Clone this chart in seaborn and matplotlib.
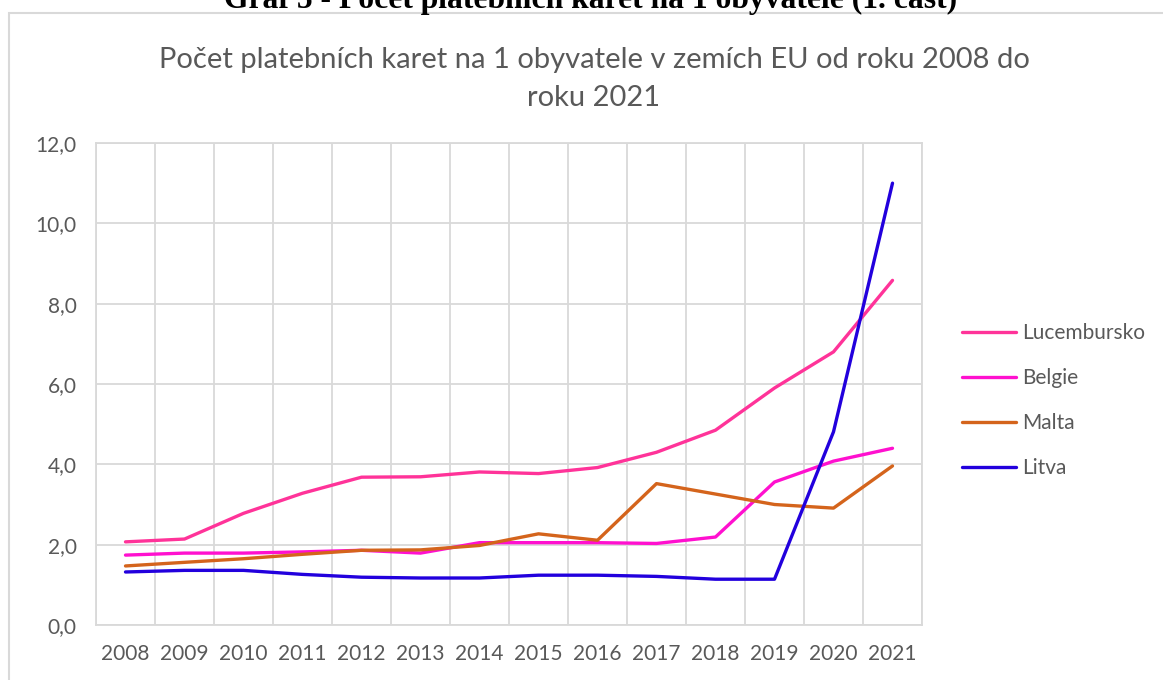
import matplotlib
matplotlib.use('Agg')
import matplotlib.pyplot as plt
from matplotlib.patches import Rectangle
from matplotlib.ticker import FixedLocator
import seaborn as sns
import pandas as pd

# values
years = list(range(2008, 2022))
lucembursko = [2.07, 2.14, 2.78, 3.28, 3.68, 3.69, 3.81, 3.77, 3.92, 4.30, 4.85, 5.90, 6.80, 8.58]
belgie = [1.74, 1.79, 1.79, 1.82, 1.86, 1.79, 2.05, 2.05, 2.05, 2.03, 2.19, 3.56, 4.08, 4.40]
malta = [1.47, 1.56, 1.65, 1.76, 1.86, 1.87, 1.98, 2.27, 2.11, 3.52, 3.26, 3.00, 2.91, 3.96]
litva = [1.32, 1.36, 1.36, 1.26, 1.19, 1.17, 1.17, 1.24, 1.24, 1.21, 1.14, 1.14, 4.81, 11.0]

countries = ['Lucembursko', 'Belgie', 'Malta', 'Litva']
y_ticks = [0, 2, 4, 6, 8, 10, 12]
y_tick_labels = ['0,0', '2,0', '4,0', '6,0', '8,0', '10,0', '12,0']

heading = 'Graf 5 - Počet platebních karet na 1 obyvatele (1. část)'
chart_title = 'Počet platebních karet na 1 obyvatele v zemích EU od roku 2008 do\nroku 2021'

palette = {
    'Lucembursko': '#FF3399',
    'Belgie': '#FF10CF',
    'Malta': '#D4641C',
    'Litva': '#2200DD',
}

TEXT = '#595959'
GRID = '#D9D9D9'
W, H = 1163, 680

df = pd.DataFrame({
    'rok': years * 4,
    'hodnota': lucembursko + belgie + malta + litva,
    'zeme': [c for c in countries for _ in years],
})

sns.set_theme(style='white')
plt.rcParams['font.family'] = ['Lato', 'DejaVu Sans']

fig = plt.figure(figsize=(W / 100, H / 100), dpi=100)
ax = fig.add_axes([96 / W, 1 - 625 / H, (922 - 96) / W, (625 - 143) / H])

sns.lineplot(data=df, x='rok', y='hodnota', hue='zeme', hue_order=countries,
             palette=palette, linewidth=2.4, ax=ax, legend=True)

ax.set_xlim(2007.5, 2021.5)
ax.set_ylim(0, 12)
ax.set_xticks(years)
ax.set_xticklabels([str(y) for y in years])
ax.set_yticks(y_ticks)
ax.set_yticklabels(y_tick_labels)
# vertical grid sits between the categories, like the Excel original
ax.xaxis.set_minor_locator(FixedLocator([y - 0.5 for y in years] + [years[-1] + 0.5]))
ax.grid(True, which='major', axis='y', color=GRID, linewidth=1.3)
ax.grid(True, which='minor', axis='x', color=GRID, linewidth=1.3)
ax.grid(False, which='major', axis='x')
ax.set_axisbelow(True)
for s in ax.spines.values():
    s.set_color(GRID)
    s.set_linewidth(1.3)
ax.tick_params(axis='both', which='both', length=0, labelsize=15, labelcolor=TEXT)
ax.tick_params(axis='x', pad=14)
ax.tick_params(axis='y', pad=14)
ax.set_xlabel('')
ax.set_ylabel('')

ax.legend(frameon=False, loc='center left', fontsize=15, labelcolor=TEXT,
          bbox_to_anchor=(962 / W, 1 - 400.5 / H), bbox_transform=fig.transFigure,
          borderpad=0, borderaxespad=0, handlelength=2.6, handletextpad=0.3,
          labelspacing=1.2)

# chart area frame (runs off the right and bottom edge)
fig.patches.append(Rectangle((9 / W, -0.1), 1.2, 1.1 - 13 / H, transform=fig.transFigure,
                             fill=False, edgecolor=GRID, linewidth=1.5))

fig.text(594 / W, 1 - 106 / H, chart_title, ha='center', va='baseline',
         fontsize=21, color=TEXT, linespacing=1.55)

# document caption above the chart, cut off by the top edge as in the original
fig.text(591 / W, 1 - 8 / H, heading, ha='center', va='baseline',
         fontsize=22.8, fontweight='bold', family=['Liberation Serif', 'DejaVu Serif'],
         color='black')

fig.savefig('out.png', dpi=100)
